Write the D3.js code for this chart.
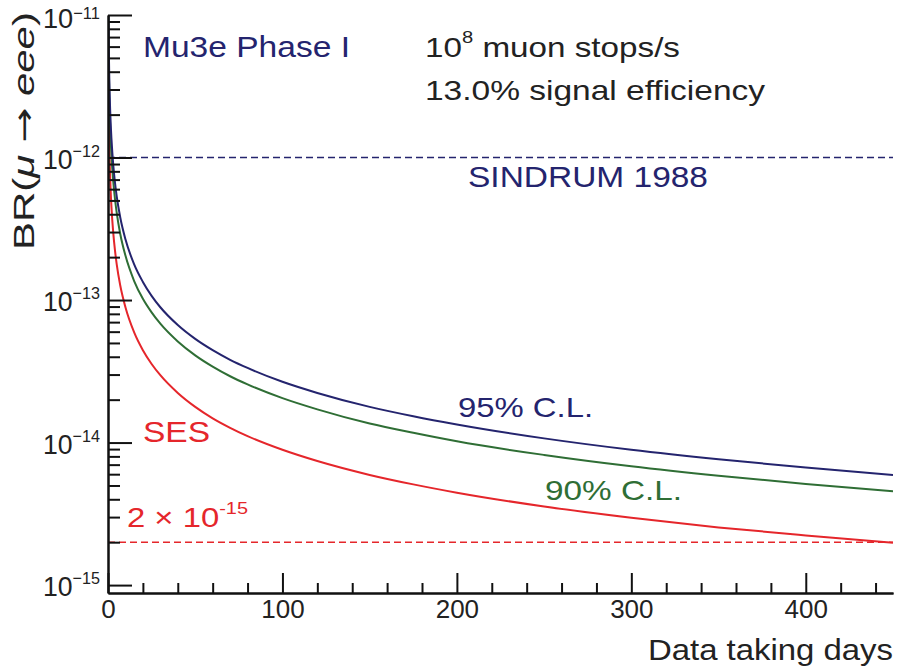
<!DOCTYPE html>
<html>
<head>
<meta charset="utf-8">
<script src="https://cdn.jsdelivr.net/npm/d3@7"></script>
<style>
  html, body { margin: 0; padding: 0; background: #fff; }
  svg { display: block; font-family: "Liberation Sans", Arial, Helvetica, sans-serif; }
</style>
</head>
<body>
<svg id="chart" width="904" height="670"></svg>
<script>
// ---------------- data ----------------
const days = [0.1, 0.2, 0.3, 0.5, 0.75, 1, 1.5, 2, 3, 4, 5, 7, 10, 15, 20, 25, 30, 40, 50, 60, 70, 80, 100, 120, 150, 175, 200, 250, 300, 350, 400, 450];
const ses = [8.9e-12, 4.45e-12, 2.97e-12, 1.78e-12, 1.19e-12, 8.9e-13, 5.93e-13, 4.45e-13, 2.97e-13, 2.23e-13, 1.78e-13, 1.27e-13, 8.9e-14, 5.93e-14, 4.45e-14, 3.56e-14, 2.97e-14, 2.23e-14, 1.78e-14, 1.48e-14, 1.27e-14, 1.11e-14, 8.9e-15, 7.42e-15, 5.93e-15, 5.09e-15, 4.45e-15, 3.56e-15, 2.97e-15, 2.54e-15, 2.23e-15, 1.98e-15];
const cl90 = [2.05e-11, 1.02e-11, 6.82e-12, 4.09e-12, 2.73e-12, 2.05e-12, 1.36e-12, 1.02e-12, 6.82e-13, 5.12e-13, 4.09e-13, 2.92e-13, 2.05e-13, 1.36e-13, 1.02e-13, 8.19e-14, 6.82e-14, 5.12e-14, 4.09e-14, 3.41e-14, 2.92e-14, 2.56e-14, 2.05e-14, 1.71e-14, 1.36e-14, 1.17e-14, 1.02e-14, 8.19e-15, 6.82e-15, 5.85e-15, 5.12e-15, 4.55e-15];
const cl95 = [2.67e-11, 1.34e-11, 8.9e-12, 5.34e-12, 3.56e-12, 2.67e-12, 1.78e-12, 1.34e-12, 8.9e-13, 6.68e-13, 5.34e-13, 3.81e-13, 2.67e-13, 1.78e-13, 1.34e-13, 1.07e-13, 8.9e-14, 6.68e-14, 5.34e-14, 4.45e-14, 3.81e-14, 3.34e-14, 2.67e-14, 2.23e-14, 1.78e-14, 1.53e-14, 1.34e-14, 1.07e-14, 8.9e-15, 7.63e-15, 6.68e-15, 5.93e-15];
const sindrumLimit = 1e-12;
const targetLimit = 2e-15;
const xMajorTicks = [0, 100, 200, 300, 400];
const xMinorTicks = [20, 40, 60, 80, 120, 140, 160, 180, 220, 240, 260, 280, 320, 340, 360, 380, 420, 440];
const yMajorTicks = [1e-15, 1e-14, 1e-13, 1e-12, 1e-11];
const yTickExponents = ["\u221215", "\u221214", "\u221213", "\u221212", "\u221211"];
const yMinorMantissas = [2, 3, 4, 5, 6, 7, 8, 9];
const yMinorDecades = [1e-15, 1e-14, 1e-13, 1e-12];

// ---------------- layout ----------------
const svg = d3.select("#chart");
const X0 = 108, X1 = 893, Y0 = 593, Y1 = 15;
const BLUE = "#24246e", GREEN = "#2f6e35", RED = "#e5262b", BLACK = "#222";

const x = d3.scaleLinear().domain([0, 450]).range([X0, X1]);
const y = d3.scaleLog().domain([0.88e-15, 1e-11]).range([Y0, Y1]);

svg.append("clipPath").attr("id", "plotclip")
  .append("rect").attr("x", X0).attr("y", Y1).attr("width", X1 - X0).attr("height", Y0 - Y1);

const plot = svg.append("g").attr("clip-path", "url(#plotclip)");

// dashed reference lines
[[sindrumLimit, BLUE], [targetLimit, RED]].forEach(([v, c]) => {
  plot.append("line")
    .attr("x1", x(0)).attr("x2", x(450))
    .attr("y1", y(v)).attr("y2", y(v))
    .attr("stroke", c).attr("stroke-width", 1.5).attr("stroke-dasharray", "7,4");
});

// curves
const line = d3.line().x(d => x(d[0])).y(d => y(d[1])).curve(d3.curveMonotoneX);
[[ses, RED], [cl90, GREEN], [cl95, BLUE]].forEach(([vals, c]) => {
  plot.append("path")
    .attr("d", line(days.map((d, i) => [d, vals[i]])))
    .attr("fill", "none").attr("stroke", c).attr("stroke-width", 2);
});

// ---------------- axes ----------------
const axStyle = g => {
  g.selectAll("path.domain").attr("stroke", "#111").attr("stroke-width", 2);
  g.selectAll(".tick line").attr("stroke", "#111").attr("stroke-width", 2);
};

// x axis (ticks pointing inward / upward)
svg.append("g").attr("transform", `translate(0,${Y0})`)
  .call(d3.axisBottom(x).tickValues(xMinorTicks).tickSizeInner(-10).tickSizeOuter(0).tickFormat(""))
  .call(axStyle);
const xa = svg.append("g").attr("transform", `translate(0,${Y0})`)
  .call(d3.axisBottom(x).tickValues(xMajorTicks).tickSizeInner(-20).tickSizeOuter(0).tickPadding(6.5).tickFormat(d3.format("d")))
  .call(axStyle);
xa.selectAll("text").attr("font-size", 26).attr("fill", BLACK)
  .attr("font-family", '"Liberation Sans", Arial, sans-serif');

// y axis (ticks pointing inward / right)
const yMinor = [];
yMinorDecades.forEach(dv => yMinorMantissas.forEach(m => yMinor.push(m * dv)));
svg.append("g").attr("transform", `translate(${X0},0)`)
  .call(d3.axisRight(y).tickValues(yMinor).tickSizeInner(12).tickSizeOuter(0).tickFormat(""))
  .call(axStyle);
svg.append("g").attr("transform", `translate(${X0},0)`)
  .call(d3.axisRight(y).tickValues(yMajorTicks).tickSizeInner(24).tickSizeOuter(0).tickFormat(""))
  .call(axStyle);

// ---------------- text helper ----------------
function addText(x0, y0, pieces, o) {
  const t = svg.append("text").attr("x", x0).attr("y", y0)
    .attr("font-size", o.size).attr("fill", o.color)
    .attr("text-anchor", o.anchor || "start");
  let shift = 0;
  pieces.forEach(p => {
    const s = t.append("tspan").text(p.t);
    const want = p.sup ? -p.sup : 0;
    if (want !== shift) { s.attr("dy", want - shift); shift = want; }
    if (p.size) s.attr("font-size", p.size);
    if (p.italic) s.attr("font-style", "italic");
    if (p.family) s.attr("font-family", p.family);
  });
  if (o.length) t.attr("textLength", o.length).attr("lengthAdjust", "spacingAndGlyphs");
  if (o.rotate) t.attr("transform", `rotate(${o.rotate},${x0},${y0})`);
  return t;
}

// y tick labels
yMajorTicks.forEach((v, i) => {
  const top = i === yMajorTicks.length - 1;
  addText(100, y(v) + (top ? 13 : 11), [{ t: "10" }, { t: yTickExponents[i], sup: top ? 9 : 12, size: 17 }],
    { size: 28, color: BLACK, anchor: "end", length: 57 });
});

// axis titles
addText(893, 660, [{ t: "Data taking days" }], { size: 30, color: BLACK, anchor: "end", length: 245 });
addText(34, 250, [{ t: "BR(" }, { t: "\u03bc", italic: true }, { t: " " }, { t: "\u2192", family: '"DejaVu Sans", sans-serif' }, { t: " " }, { t: "eee", italic: true }, { t: ")" }],
  { size: 30, color: BLACK, anchor: "start", length: 238, rotate: -90 });

// annotations
addText(143, 57, [{ t: "Mu3e Phase I" }], { size: 30, color: BLUE, length: 207 });
addText(425, 57, [{ t: "10" }, { t: "8", sup: 14, size: 17 }, { t: " muon stops/s" }], { size: 28, color: BLACK, length: 255 });
addText(425, 100, [{ t: "13.0% signal efficiency" }], { size: 28, color: BLACK, length: 340 });
addText(468, 187, [{ t: "SINDRUM 1988" }], { size: 30, color: BLUE, length: 240 });
addText(458, 417, [{ t: "95% C.L." }], { size: 28, color: BLUE, length: 135 });
addText(545, 500, [{ t: "90% C.L." }], { size: 28, color: GREEN, length: 137 });
addText(143, 442, [{ t: "SES" }], { size: 30, color: RED, length: 67 });
addText(127, 527, [{ t: "2 \u00d7 10" }, { t: "-15", sup: 13, size: 17 }], { size: 28, color: RED, length: 121 });
</script>
</body>
</html>
